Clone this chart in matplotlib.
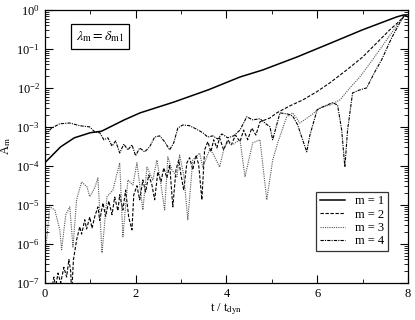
import numpy as np
import matplotlib
matplotlib.use('Agg')
import matplotlib.pyplot as plt
from matplotlib.ticker import LogLocator, MultipleLocator, NullFormatter

plt.rcParams['font.family'] = ['Liberation Serif', 'DejaVu Serif']
plt.rcParams['mathtext.fontset'] = 'stix'
plt.rcParams['font.size'] = 9

# values are log10(A_m)
t_m1 = [0.0, 0.35, 0.65, 1.0, 1.25, 1.75, 2.1, 2.85, 3.6, 4.3, 4.8, 5.55, 6.3, 7.0, 7.75, 7.9, 8.0]
log_m1 = [-3.92, -3.51, -3.28, -3.15, -3.11, -2.82, -2.64, -2.36, -2.05, -1.72, -1.54, -1.21,
          -0.85, -0.51, -0.18, -0.13, -0.17]

t_m2 = [0.0, 0.13, 0.2, 0.24, 0.29, 0.35, 0.42, 0.48, 0.53, 0.57, 0.59, 0.63, 0.70, 0.77, 0.81,
        0.88, 0.92, 0.99, 1.04, 1.10, 1.17, 1.21, 1.28, 1.34, 1.41, 1.48, 1.54, 1.61, 1.65, 1.72,
        1.78, 1.85, 1.92, 1.96, 2.03, 2.09, 2.16, 2.22, 2.29, 2.36, 2.42, 2.49, 2.56, 2.62, 2.69,
        2.75, 2.82, 2.89, 2.95, 3.00, 3.06, 3.13, 3.19, 3.26, 3.33, 3.39, 3.46, 3.52, 3.59, 3.66,
        3.72, 3.79, 3.85, 3.94, 4.03, 4.11, 4.20, 4.30, 4.38, 4.47, 4.56, 4.65, 4.74, 4.85, 4.96,
        5.11, 5.40, 5.68, 5.99, 6.28, 6.65, 7.00, 7.31, 7.60, 7.82, 7.93, 8.0]
log_m2 = [-7.5, -7.3, -6.85, -7.1, -6.75, -7.0, -6.6, -6.85, -6.4, -6.7, -7.3, -6.41, -5.90,
          -5.56, -5.75, -5.38, -5.62, -5.31, -5.60, -5.30, -5.05, -5.40, -4.95, -5.30, -4.90,
          -5.25, -4.80, -5.15, -4.74, -5.13, -4.62, -5.33, -5.64, -4.74, -4.51, -4.87, -4.36,
          -4.67, -4.23, -4.49, -4.87, -4.15, -4.41, -4.05, -4.31, -3.97, -5.05, -4.10, -3.85,
          -4.23, -4.62, -3.92, -3.79, -4.10, -3.72, -3.97, -4.87, -3.59, -3.38, -3.64, -3.33,
          -3.54, -3.28, -3.59, -3.33, -3.46, -3.21, -3.38, -3.08, -3.33, -3.03, -3.21, -2.87,
          -2.82, -2.77, -2.64, -2.46, -2.31, -2.10, -1.87, -1.54, -1.21, -0.85, -0.51, -0.28,
          -0.13, -0.18]

t_m3 = [0.0, 0.04, 0.11, 0.22, 0.33, 0.37, 0.46, 0.55, 0.62, 0.70, 0.81, 0.93, 0.99, 1.10, 1.17,
        1.26, 1.37, 1.50, 1.65, 1.72, 1.83, 1.94, 2.03, 2.16, 2.25, 2.38, 2.47, 2.56, 2.64, 2.71,
        2.80, 2.91, 2.97, 3.06, 3.15, 3.26, 3.41, 3.48, 3.63, 3.70, 3.85, 3.94, 4.01, 4.14, 4.30,
        4.41, 4.58, 4.74, 4.89, 5.02, 5.13, 5.33, 5.46, 5.62, 5.88, 6.06, 6.28, 6.50, 6.72, 6.94,
        7.22, 7.53, 7.78, 7.93, 8.0]
log_m3 = [-6.15, -5.90, -5.05, -5.13, -5.64, -6.15, -5.26, -5.05, -6.08, -4.87, -4.41, -4.54,
          -4.79, -4.56, -4.31, -6.23, -4.79, -4.62, -3.92, -5.82, -4.36, -4.49, -3.92, -5.13,
          -4.03, -4.36, -3.85, -4.49, -5.13, -3.77, -4.10, -4.28, -3.72, -4.23, -5.38, -3.85,
          -3.67, -4.03, -3.59, -3.67, -4.03, -3.59, -3.41, -3.45, -3.33, -4.28, -3.41, -3.33,
          -4.87, -3.85, -3.41, -2.74, -2.64, -2.90, -2.69, -2.51, -2.44, -2.31, -2.00, -1.72,
          -1.28, -0.77, -0.36, -0.13, -0.18]

t_m4 = [0.0, 0.15, 0.33, 0.55, 0.77, 0.99, 1.10, 1.21, 1.30, 1.39, 1.48, 1.56, 1.65, 1.74, 1.83,
        1.92, 2.00, 2.09, 2.20, 2.31, 2.42, 2.53, 2.64, 2.75, 2.84, 2.93, 3.04, 3.19, 3.33, 3.48,
        3.59, 3.70, 3.81, 3.90, 4.03, 4.16, 4.30, 4.45, 4.58, 4.74, 4.87, 4.96, 5.02, 5.18, 5.35,
        5.46, 5.57, 5.68, 5.77, 5.84, 6.00, 6.17, 6.34, 6.45, 6.54, 6.61, 6.67, 6.78, 6.94, 7.09,
        7.27, 7.42, 7.64, 7.82, 7.93, 8.0]
log_m4 = [-3.21, -3.03, -2.92, -2.90, -2.97, -3.00, -3.13, -3.15, -3.33, -3.28, -3.49, -3.36,
          -3.67, -3.44, -3.59, -3.46, -3.74, -3.54, -3.64, -3.51, -3.26, -3.23, -3.38, -3.59,
          -3.41, -3.03, -2.95, -2.97, -3.05, -3.15, -3.26, -3.23, -3.31, -3.18, -3.28, -3.23,
          -3.08, -2.74, -2.82, -2.79, -2.92, -3.00, -3.33, -2.64, -2.67, -2.72, -2.95, -3.33,
          -3.64, -3.21, -2.56, -2.46, -2.38, -2.44, -3.08, -4.03, -3.08, -2.13, -2.05, -2.00,
          -1.59, -1.28, -0.72, -0.33, -0.13, -0.18]

labels = ['m = 1', 'm = 2', 'm = 3', 'm = 4']

fig = plt.figure(figsize=(4.15, 3.2), dpi=100)
ax = fig.add_axes([0.108, 0.116, 0.875, 0.853])

ax.plot(t_m1, 10 ** np.array(log_m1), color='black', lw=1.1, label=labels[0])
ax.plot(t_m2, 10 ** np.array(log_m2), color='black', lw=0.8, dashes=(3, 1.5), label=labels[1])
ax.plot(t_m3, 10 ** np.array(log_m3), color='#555555', lw=0.8, dashes=(1, 1), label=labels[2])
ax.plot(t_m4, 10 ** np.array(log_m4), color='black', lw=0.8, dashes=(3, 1, 1, 1), label=labels[3])

ax.set_yscale('log')
ax.set_xlim(0, 8)
ax.set_ylim(1e-7, 1)
ax.xaxis.set_major_locator(MultipleLocator(2))
ax.xaxis.set_minor_locator(MultipleLocator(1))
ax.yaxis.set_major_locator(LogLocator(base=10, numticks=10))
ax.yaxis.set_minor_locator(LogLocator(base=10, subs=np.arange(2, 10), numticks=100))
ax.yaxis.set_minor_formatter(NullFormatter())
ax.tick_params(which='both', direction='in', top=True, right=True, labelsize=9)
ax.tick_params(which='major', length=6, width=0.8)
ax.tick_params(which='minor', length=3, width=0.6)
for s in ax.spines.values():
    s.set_linewidth(0.9)

ax.set_xlabel('t / t$_{\\rm dyn}$', labelpad=1)
ax.set_ylabel('A$_{\\rm m}$', labelpad=2)

ax.text(0.085, 0.903, '$\\lambda_{\\rm m} = \\delta_{\\rm m1}$', transform=ax.transAxes,
        fontsize=10, va='center', ha='left',
        bbox=dict(boxstyle='square,pad=0.35', fc='white', ec='black', lw=0.9))

leg = ax.legend(loc='lower right', bbox_to_anchor=(0.945, 0.117), borderaxespad=0,
                fontsize=9, frameon=True, fancybox=False, edgecolor='black',
                handlelength=2.0, borderpad=0.3, labelspacing=0.1, handletextpad=0.8)
leg.get_frame().set_linewidth(0.9)

fig.savefig('out.png', dpi=100)
